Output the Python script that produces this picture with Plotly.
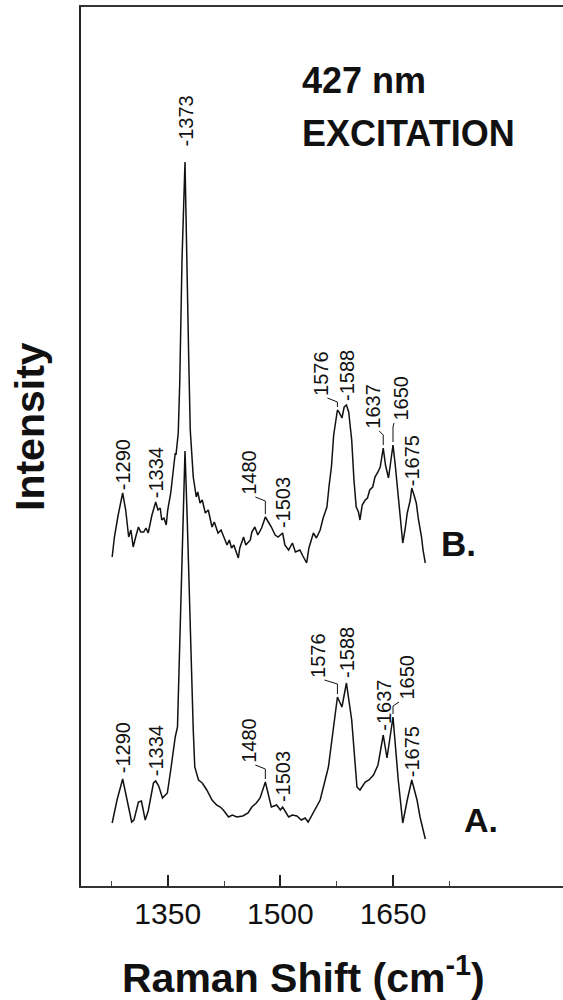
import numpy as np
import plotly.graph_objects as go

# ---- Spectrum A (lower trace), Raman shift in cm^-1 and intensity (a.u.)
WN_A = [1276, 1282.5, 1290, 1296, 1302, 1305, 1311, 1315, 1320, 1324, 1331, 1334, 1338,
        1343, 1349.5, 1354, 1360, 1363, 1366, 1370, 1373, 1376, 1380, 1384, 1386, 1391,
        1396, 1402, 1409, 1415, 1420, 1424, 1431, 1436, 1442, 1450, 1457, 1462, 1468, 1473,
        1480, 1484, 1488, 1495, 1500, 1503, 1507, 1511, 1516, 1522, 1528, 1533, 1537,
        1544, 1553, 1564, 1573, 1576, 1582, 1588, 1595, 1602, 1606, 1613, 1618, 1624,
        1630, 1637, 1642, 1650, 1657, 1663, 1669, 1675, 1682, 1686, 1693]
INT_A = [63, 86, 107, 84, 64, 66, 84, 85, 66, 75, 103, 105, 100,
         88, 93, 116, 149, 159, 246, 366, 435, 366, 246, 156, 119, 106,
         103, 96, 86, 81, 79, 76, 69, 71, 69, 70, 73, 79, 83, 88,
         104, 90, 79, 81, 76, 79, 74, 69, 71, 70, 66, 68, 64,
         73, 86, 119, 173, 189, 179, 203, 166, 99, 96, 104, 106, 111,
         121, 151, 128, 169, 106, 63, 86, 106, 86, 69, 47]

# ---- Spectrum B (upper trace), same axis, stacked with an offset
WN_B = [1276, 1279, 1284, 1290, 1294, 1298, 1301, 1304, 1308, 1311, 1314, 1318, 1321,
        1324, 1329, 1334, 1337, 1340, 1342, 1345, 1348, 1350, 1354, 1357, 1360, 1361,
        1364, 1366, 1369, 1373, 1375, 1378, 1380, 1384, 1388, 1390, 1393, 1396, 1400,
        1404, 1409, 1412, 1417, 1421, 1429, 1432, 1435, 1438, 1444, 1446, 1451, 1454,
        1460, 1462, 1466, 1470, 1475, 1480, 1484, 1488, 1493, 1497, 1503, 1506, 1511,
        1516, 1520, 1526, 1530, 1535, 1538, 1544, 1548, 1553, 1557, 1562, 1565, 1568,
        1571, 1576, 1578, 1582, 1585, 1588, 1591, 1595, 1598, 1601, 1604, 1606, 1609,
        1613, 1616, 1619, 1623, 1626, 1630, 1633, 1637, 1640, 1644, 1647, 1650, 1653,
        1656, 1659, 1663, 1666, 1669, 1673, 1675, 1678, 1681, 1684, 1688, 1690, 1693]
INT_B = [49, 69, 91, 113, 96, 69, 76, 59, 71, 79, 74, 74, 78,
         73, 91, 104, 96, 98, 86, 88, 81, 96, 113, 136, 153, 151,
         173, 223, 346, 444, 346, 246, 176, 129, 109, 114, 103, 106, 93,
         96, 79, 84, 73, 76, 61, 66, 58, 61, 48, 58, 69, 61,
         66, 74, 79, 71, 78, 89, 84, 79, 71, 69, 73, 61, 56,
         63, 54, 56, 50, 43, 58, 73, 68, 76, 88, 99, 121, 139,
         171, 196, 194, 188, 199, 201, 194, 166, 126, 99, 94, 86, 101,
         106, 108, 116, 119, 129, 134, 139, 158, 141, 128, 144, 161, 141,
         119, 91, 63, 76, 93, 106, 118, 111, 103, 86, 69, 56, 43]
OFFSET_B = 280

# ---- Band assignments marked on each trace
PEAKS_A = [1290, 1334, 1480, 1503, 1576, 1588, 1637, 1650, 1675]
PEAKS_B = [1290, 1334, 1373, 1480, 1503, 1576, 1588, 1637, 1650, 1675]

X_TICKS = [1350, 1500, 1650]
X_MINOR = [1275, 1425, 1575, 1725]
X_RANGE = [1234.5, 1876.4]
Y_RANGE = [0, 879]

FONT = "Liberation Sans, Arial, Helvetica, sans-serif"
INK = "#111111"

# label placement (pixel offsets of the label's foot relative to the band top)
PX = (X_RANGE[1] - X_RANGE[0]) / 482.0        # cm^-1 per pixel
GAP_A = {1290: 4, 1334: 3, 1503: 3, 1588: 3, 1637: 2, 1675: 1}
GAP_B = {1290: 1, 1334: 2, 1373: 13, 1503: 3, 1588: 2, 1675: 0}
LEAD_A = {1480: (-17, 17), 1576: (-20, 17), 1650: (13, 15)}
LEAD_B = {1480: (-17, 20), 1576: (-17, 12), 1637: (-11, 17), 1650: (7, 22)}

wa = np.array(WN_A, float)
ia = np.array(INT_A, float)
wb = np.array(WN_B, float)
ib = np.array(INT_B, float) + OFFSET_B

fig = go.Figure()
fig.add_trace(go.Scatter(x=wa, y=ia, mode="lines", line=dict(color=INK, width=1.5),
                         showlegend=False, hoverinfo="skip"))
fig.add_trace(go.Scatter(x=wb, y=ib, mode="lines", line=dict(color=INK, width=1.5),
                         showlegend=False, hoverinfo="skip"))

annotations = []
lead_x, lead_y = [], []


def mark(peaks, w, i, gaps, leads):
    for p in peaks:
        top = float(np.interp(p, w, i))
        if p in leads:
            dx, dy = leads[p]
            xt = p + dx * PX
            yb = top + dy
            annotations.append(dict(x=xt, y=yb, text=str(p), showarrow=False,
                                    textangle=-90, xanchor="center", yanchor="bottom",
                                    font=dict(family=FONT, size=20, color=INK)))
            s = 1 if dx < 0 else -1
            x0 = xt + s * min(7, abs(dx) - 1) * PX
            lead_x.extend([x0, p, p, None])
            lead_y.extend([yb, yb - 4, top + 3, None])
        else:
            annotations.append(dict(x=p, y=top + gaps.get(p, 3), text="-" + str(p),
                                    showarrow=False, textangle=-90,
                                    xanchor="center", yanchor="bottom",
                                    font=dict(family=FONT, size=20, color=INK)))


mark(PEAKS_A, wa, ia, GAP_A, LEAD_A)
mark(PEAKS_B, wb, ib, GAP_B, LEAD_B)

fig.add_trace(go.Scatter(x=lead_x, y=lead_y, mode="lines", line=dict(color=INK, width=1),
                         showlegend=False, hoverinfo="skip"))

# trace letters
annotations.append(dict(x=1767, y=66, text="<b>A.</b>", showarrow=False,
                        xanchor="center", yanchor="middle",
                        font=dict(family=FONT, size=34, color=INK)))
annotations.append(dict(x=1737, y=343, text="<b>B.</b>", showarrow=False,
                        xanchor="center", yanchor="middle",
                        font=dict(family=FONT, size=35, color=INK)))

# excitation note
annotations.append(dict(xref="paper", yref="paper", x=(300 - 81) / 482, y=(886 - 80) / 879,
                        text="<b>427 nm</b>", showarrow=False, xanchor="left",
                        yanchor="middle", font=dict(family=FONT, size=36, color=INK)))
annotations.append(dict(xref="paper", yref="paper", x=(300 - 81) / 482, y=(886 - 133) / 879,
                        text="<b>EXCITATION</b>", showarrow=False, xanchor="left",
                        yanchor="middle", font=dict(family=FONT, size=36, color=INK)))

# axis titles
annotations.append(dict(xref="paper", yref="paper", x=(303 - 81) / 482, y=(886 - 975) / 879,
                        text="<b>Raman Shift (cm<sup>-1</sup>)</b>", showarrow=False,
                        xanchor="center", yanchor="middle",
                        font=dict(family=FONT, size=41, color=INK)))
annotations.append(dict(xref="paper", yref="paper", x=(30 - 81) / 482, y=(886 - 427) / 879,
                        text="<b>Intensity</b>", showarrow=False, textangle=-90,
                        xanchor="center", yanchor="middle",
                        font=dict(family=FONT, size=41, color=INK)))

fig.update_layout(
    width=563, height=1000,
    margin=dict(l=81, r=0, t=7, b=114),
    paper_bgcolor="white", plot_bgcolor="white",
    annotations=annotations,
    xaxis=dict(range=X_RANGE, tickvals=X_TICKS, ticktext=[str(v) for v in X_TICKS],
               ticks="inside", ticklen=11, tickwidth=1.5, tickcolor="#222222",
               minor=dict(tickvals=X_MINOR, ticks="inside", ticklen=5, tickwidth=1,
                          tickcolor="#444444"),
               showline=True, mirror=True, linewidth=2, linecolor="#333333",
               showgrid=False, zeroline=False,
               tickfont=dict(family=FONT, size=30, color=INK)),
    yaxis=dict(range=Y_RANGE, showline=True, linewidth=2, linecolor="#222222",
               showticklabels=False, ticks="", showgrid=False, zeroline=False),
)

fig.write_html("out.html")
